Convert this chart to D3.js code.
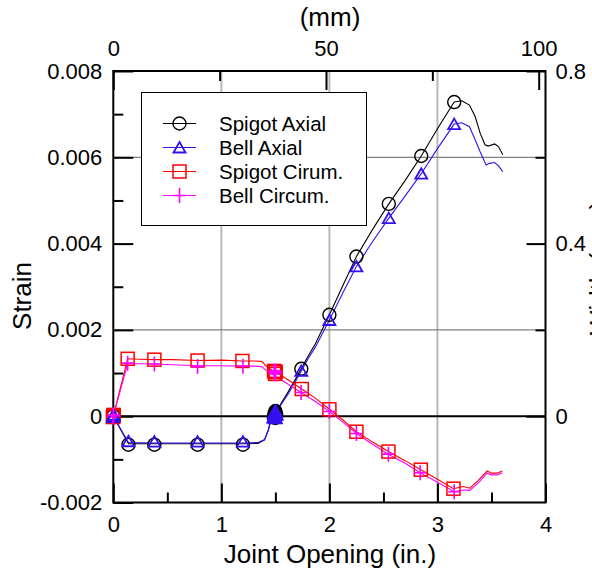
<!DOCTYPE html>
<html><head><meta charset="utf-8">
<script src="https://cdn.jsdelivr.net/npm/d3@7"></script>
<style>body{margin:0;background:#fff}svg{display:block;font-family:"Liberation Sans",Arial,sans-serif}</style>
</head><body><svg id="c" width="592" height="571"></svg>
<script>
// ---- data (strain values x 1e-3, joint opening in inches) ----
const seriesNames = ["Spigot Axial", "Bell Axial", "Spigot Cirum.", "Bell Circum."];
const xTicks = [0, 1, 2, 3, 4];
const yTickLabels = ["-0.002", "0", "0.002", "0.004", "0.006", "0.008"];
const mmTicks = [0, 50, 100];
const rightTicks = [0, 0.4, 0.8];

const spigotAxial = [[0,0],[0.14,-0.64],[0.38,-0.64],[0.78,-0.64],[1.2,-0.64],[1.34,-0.63],[1.40,-0.55],[1.435,-0.32],[1.467,0],[1.50,0.08],[1.62,0.57],[1.74,1.10],[1.80,1.38],[1.87,1.68],[2.0,2.35],[2.125,3.03],[2.25,3.70],[2.40,4.33],[2.55,4.92],[2.70,5.46],[2.85,6.03],[3.0,6.66],[3.155,7.28],[3.226,7.31],[3.296,7.21],[3.35,6.94],[3.395,6.56],[3.44,6.29],[3.47,6.26],[3.53,6.31],[3.565,6.25],[3.605,6.06]];
const bellAxial = [[0,0],[0.14,-0.61],[0.38,-0.62],[0.78,-0.62],[1.2,-0.62],[1.34,-0.61],[1.40,-0.54],[1.435,-0.32],[1.467,0],[1.50,0.07],[1.62,0.52],[1.74,1.05],[1.80,1.32],[1.87,1.60],[2.0,2.23],[2.125,2.86],[2.25,3.47],[2.40,4.05],[2.55,4.59],[2.70,5.10],[2.85,5.62],[3.0,6.20],[3.155,6.77],[3.226,6.80],[3.296,6.71],[3.35,6.40],[3.395,6.13],[3.45,5.82],[3.48,5.86],[3.53,5.88],[3.565,5.80],[3.605,5.67]];
const spigotCircum = [[0,0],[0.133,1.33],[0.25,1.32],[0.38,1.31],[0.55,1.31],[0.78,1.29],[1.0,1.30],[1.195,1.28],[1.30,1.28],[1.374,1.27],[1.42,1.15],[1.467,1.07],[1.50,1.03],[1.62,0.84],[1.744,0.63],[1.87,0.42],[2.0,0.16],[2.13,-0.10],[2.25,-0.36],[2.40,-0.60],[2.546,-0.82],[2.70,-1.03],[2.846,-1.24],[3.0,-1.46],[3.148,-1.68],[3.24,-1.63],[3.30,-1.67],[3.38,-1.48],[3.46,-1.27],[3.50,-1.32],[3.55,-1.32],[3.60,-1.27]];
const bellCircum = [[0,0],[0.133,1.22],[0.38,1.21],[0.78,1.17],[1.0,1.17],[1.2,1.16],[1.30,1.16],[1.374,1.15],[1.42,1.05],[1.48,0.96],[1.60,0.77],[1.738,0.55],[1.87,0.34],[2.0,0.11],[2.13,-0.15],[2.25,-0.40],[2.40,-0.65],[2.546,-0.88],[2.70,-1.09],[2.84,-1.31],[3.0,-1.53],[3.155,-1.75],[3.24,-1.71],[3.30,-1.72],[3.38,-1.54],[3.46,-1.32],[3.50,-1.36],[3.55,-1.36],[3.60,-1.31]];

// marker positions (x in., strain x1e-3)
const spigotAxialMarks = [[0,0],[0.14,-0.66],[0.38,-0.66],[0.78,-0.66],[1.2,-0.66],[1.74,1.10],[2.0,2.35],[2.25,3.70],[2.55,4.92],[2.85,6.03],[3.155,7.28]];
const bellAxialMarks = [[0,0],[0.14,-0.58],[0.38,-0.59],[0.78,-0.59],[1.2,-0.59],[1.74,1.05],[2.0,2.23],[2.25,3.47],[2.55,4.59],[2.85,5.62],[3.155,6.77]];
const spigotCircumMarks = [[0,0],[0.133,1.33],[0.38,1.31],[0.78,1.29],[1.195,1.28],[1.744,0.63],[2.0,0.16],[2.25,-0.36],[2.546,-0.82],[2.846,-1.24],[3.148,-1.68]];
const bellCircumMarks = [[0,0],[0.133,1.23],[0.38,1.21],[0.78,1.15],[1.2,1.16],[1.738,0.55],[2.0,0.11],[2.25,-0.40],[2.546,-0.88],[2.84,-1.31],[3.155,-1.75]];
// overlapping (clustered) markers near the joint seating point
const axialCluster = [[1.485,-0.02],[1.492,0.06],[1.50,0.12],[1.508,0.05],[1.50,-0.04],[1.497,0.03]];
const circumCluster = [[1.488,1.05],[1.495,1.02],[1.503,1.03],[1.498,0.98]];
const originCluster = [[0,0],[0.004,0.02],[-0.004,-0.02],[0.002,0.03]];

// ---- layout ----
const L = 113.3, R = 545.5, T = 71, B = 502.5;
const svg = d3.select("#c");
const x = d3.scaleLinear().domain([0, 4]).range([L, R]);
const y = d3.scaleLinear().domain([-2, 8]).range([B, T]);           // strain x1e-3
const xmm = d3.scaleLinear().domain([0, 4 * 25.4]).range([L, R]);    // mm
const yR = d3.scaleLinear().domain([-0.2, 0.8]).range([B, T]);
const FS = 22, LFS = 20.5, TFS = 26;
const colors = ["#000000", "#3311ee", "#ff0000", "#ff00ff"];

// grid
const g = svg.append("g");
g.selectAll(".vg").data([1, 2, 3]).join("line")
  .attr("x1", d => x(d)).attr("x2", d => x(d)).attr("y1", T).attr("y2", B)
  .attr("stroke", "#b8b8b8").attr("stroke-width", 2);
g.selectAll(".hg").data([6, 2]).join("line")
  .attr("x1", L).attr("x2", R).attr("y1", d => y(d)).attr("y2", d => y(d))
  .attr("stroke", "#808080").attr("stroke-width", 1.3);
g.append("line").attr("x1", L).attr("x2", R).attr("y1", y(0)).attr("y2", y(0))
  .attr("stroke", "#000").attr("stroke-width", 2);

// axes helper
function styleAxis(sel) {
  sel.select(".domain").remove();
  sel.selectAll("line").attr("stroke", "#000").attr("stroke-width", 2);
  sel.selectAll("text").attr("font-size", FS).attr("fill", "#000").attr("font-family", '"Liberation Sans", Arial, sans-serif');
}
// bottom
svg.append("g").attr("transform", `translate(0,${B})`)
  .call(d3.axisBottom(x).tickValues([0.5, 1.5, 2.5, 3.5]).tickSize(-10).tickFormat("")).call(styleAxis);
svg.append("g").attr("transform", `translate(0,${B})`)
  .call(d3.axisBottom(x).tickValues(xTicks).tickSize(-19).tickPadding(14).tickFormat(d3.format("d"))).call(styleAxis);
// top (mm)
svg.append("g").attr("transform", `translate(0,${T})`)
  .call(d3.axisTop(xmm).tickValues([25, 75]).tickSize(-10).tickFormat("")).call(styleAxis);
svg.append("g").attr("transform", `translate(0,${T})`)
  .call(d3.axisTop(xmm).tickValues(mmTicks).tickSize(-19).tickPadding(15).tickFormat(d3.format("d"))).call(styleAxis);
// left
svg.append("g").attr("transform", `translate(${L},0)`)
  .call(d3.axisLeft(y).tickValues([-1, 1, 3, 5, 7]).tickSize(-10).tickFormat("")).call(styleAxis);
svg.append("g").attr("transform", `translate(${L},0)`)
  .call(d3.axisLeft(y).tickValues([-2, 0, 2, 4, 6, 8]).tickSize(-20).tickPadding(11)
    .tickFormat((d, i) => yTickLabels[i])).call(styleAxis);
// right
svg.append("g").attr("transform", `translate(${R},0)`)
  .call(d3.axisRight(yR).tickValues([0.2, 0.6]).tickSize(-10).tickFormat("")).call(styleAxis);
svg.append("g").attr("transform", `translate(${R},0)`)
  .call(d3.axisRight(yR).tickValues(rightTicks).tickSize(-19).tickPadding(10)
    .tickFormat(d => d === 0 ? "0" : d3.format(".1f")(d))).call(styleAxis);

// frame
svg.append("rect").attr("x", L).attr("y", T).attr("width", R - L).attr("height", B - T)
  .attr("fill", "none").attr("stroke", "#000").attr("stroke-width", 2);

// axis titles
svg.append("text").attr("x", 330).attr("y", 563).attr("text-anchor", "middle")
  .attr("font-size", TFS).text("Joint Opening (in.)");
svg.append("text").attr("x", 330).attr("y", 26).attr("text-anchor", "middle")
  .attr("font-size", TFS).text("(mm)");
svg.append("text").attr("transform", "translate(31,296) rotate(-90)").attr("text-anchor", "middle")
  .attr("font-size", TFS).text("Strain");
svg.append("text").attr("transform", "translate(608,268) rotate(-90)").attr("text-anchor", "middle")
  .attr("font-size", TFS).text("Width (mm)");

// lines
const line = d3.line().x(d => x(d[0])).y(d => y(d[1]));
const lineData = [spigotAxial, bellAxial, spigotCircum, bellCircum];
const plot = svg.append("g");
lineData.forEach((data, i) => {
  plot.append("path").datum(data).attr("d", line).attr("fill", "none")
    .attr("stroke", colors[i]).attr("stroke-width", 1.1);
});

// markers
function marker(sel, type, color) {
  if (type === 0) sel.append("circle").attr("r", 6.5).attr("fill", "none").attr("stroke", color).attr("stroke-width", 1.4);
  if (type === 1) sel.append("path").attr("d", "M0,-5.5L6,5L-6,5Z").attr("fill", "none").attr("stroke", color).attr("stroke-width", 1.8);
  if (type === 2) sel.append("rect").attr("x", -6.5).attr("y", -6.5).attr("width", 13).attr("height", 13).attr("fill", "none").attr("stroke", color).attr("stroke-width", 1.5);
  if (type === 3) sel.append("path").attr("d", "M-6,0H6M0,-7.5V7.5").attr("fill", "none").attr("stroke", color).attr("stroke-width", 1.6);
}
const markData = [spigotAxialMarks, bellAxialMarks, spigotCircumMarks, bellCircumMarks];
[2, 3, 0, 1].forEach(i => {
  markData[i].forEach(d => {
    const m = plot.append("g").attr("transform", `translate(${x(d[0])},${y(d[1])})`);
    marker(m, i, colors[i]);
  });
});
// clusters
axialCluster.forEach(d => {
  const m = plot.append("g").attr("transform", `translate(${x(d[0])},${y(d[1])})`);
  m.append("circle").attr("r", 6.5).attr("fill", "#000").attr("stroke", "#000").attr("stroke-width", 1.4);
});
axialCluster.forEach(d => {
  const m = plot.append("g").attr("transform", `translate(${x(d[0])},${y(d[1])})`);
  m.append("path").attr("d", "M0,-6L6.5,5.5L-6.5,5.5Z").attr("fill", colors[1]).attr("stroke", colors[1]).attr("stroke-width", 1.8);
});
circumCluster.forEach(d => {
  const m = plot.append("g").attr("transform", `translate(${x(d[0])},${y(d[1])})`);
  marker(m, 2, colors[2]);
});
circumCluster.forEach(d => {
  const m = plot.append("g").attr("transform", `translate(${x(d[0])},${y(d[1])})`);
  marker(m, 3, colors[3]);
});
originCluster.forEach(d => {
  const m = plot.append("g").attr("transform", `translate(${x(d[0])},${y(d[1])})`);
  marker(m, 2, colors[2]);
});
originCluster.forEach(d => {
  const m = plot.append("g").attr("transform", `translate(${x(d[0])},${y(d[1])})`);
  marker(m, 1, colors[1]);
  marker(m, 3, colors[3]);
});

// legend
const lg = svg.append("g");
lg.append("rect").attr("x", 141.5).attr("y", 92.5).attr("width", 225).attr("height", 133)
  .attr("fill", "#fff").attr("stroke", "#000").attr("stroke-width", 1);
const rowsY = [123.5, 147.5, 171.5, 195.5];
seriesNames.forEach((name, i) => {
  lg.append("line").attr("x1", 163).attr("x2", 196).attr("y1", rowsY[i]).attr("y2", rowsY[i])
    .attr("stroke", colors[i]).attr("stroke-width", 1.1);
  const m = lg.append("g").attr("transform", `translate(179.5,${rowsY[i]})`);
  marker(m, i, colors[i]);
  lg.append("text").attr("x", 219).attr("y", rowsY[i] + 7.5).attr("font-size", LFS).text(name);
});
</script></body></html>
